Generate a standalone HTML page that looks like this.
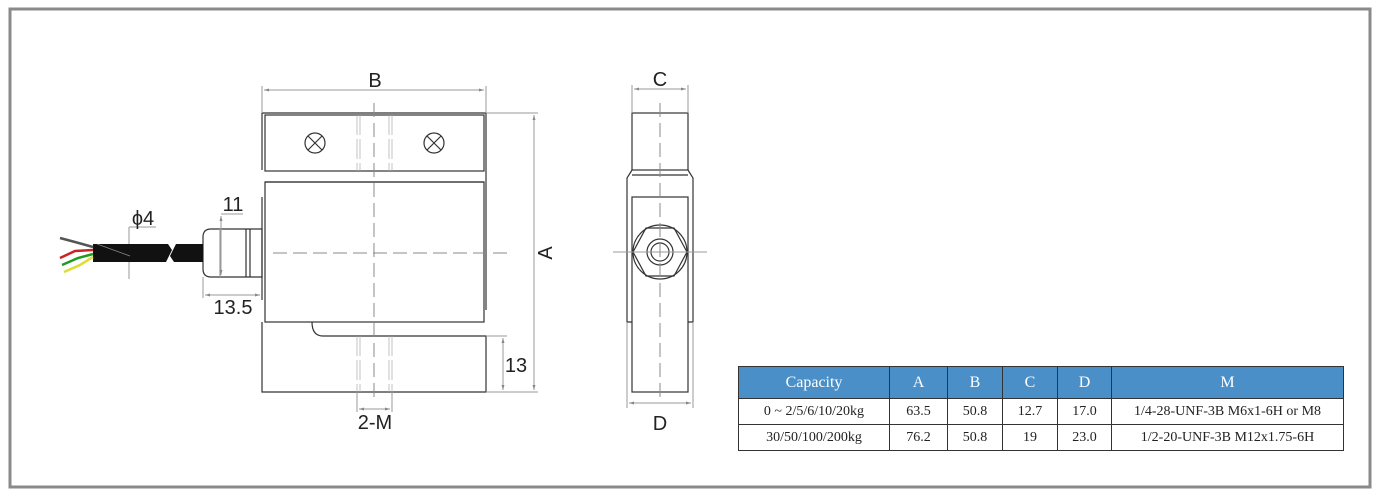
<!DOCTYPE html>
<html><head><meta charset="utf-8"><style>
body{margin:0;background:#fff;width:1383px;height:497px;overflow:hidden;font-family:"Liberation Sans",sans-serif}
table{position:absolute;left:738px;top:366px;border-collapse:collapse;font-family:"Liberation Serif","Noto Serif CJK SC",serif;font-size:14px}
td{border:1px solid #333;text-align:center;padding:0;height:25px;color:#222}
tr.h td{background:#4a8fc7;color:#fff;height:31px;font-size:16px}
</style></head><body>
<svg width="1383" height="497" style="position:absolute;left:0;top:0" font-family="Liberation Sans, sans-serif">
<defs><marker id="a" viewBox="0 0 10 10" refX="10" refY="5" markerWidth="7" markerHeight="5" orient="auto-start-reverse"><path d="M0,2 L10,5 L0,8z" fill="#888"/></marker></defs>
<rect x="10" y="9" width="1360" height="478" fill="none" stroke="#8a8a8a" stroke-width="3"/>
<g stroke="#333" stroke-width="1.2" fill="none">
<line x1="262" y1="113" x2="486" y2="113"/>
<rect x="265" y="115" width="219" height="56"/>
<line x1="265" y1="182" x2="484" y2="182"/>
<rect x="265" y="182" width="219" height="140"/>
<line x1="262" y1="113" x2="262" y2="170"/>
<line x1="486" y1="113" x2="486" y2="310"/>
<line x1="262" y1="197" x2="262" y2="300"/>
<path d="M262,322 V392 H486 V336 H323 Q312,336 312,322"/>
<circle cx="315" cy="143" r="10"/><path d="M308,136 L322,150 M322,136 L308,150"/>
<circle cx="434" cy="143" r="10"/><path d="M427,136 L441,150 M441,136 L427,150"/>
<path d="M203,237 Q203,229 211,229 H262 V277 H211 Q203,277 203,269 Z"/>
<line x1="220" y1="229" x2="220" y2="277" stroke="#999"/><line x1="246" y1="229" x2="246" y2="277"/><line x1="250" y1="229" x2="250" y2="277"/>
<rect x="632" y="113" width="56" height="57"/>
<path d="M632,170 L627,178 V322 H632 M688,170 L693,178 V322 H688"/>
<line x1="632" y1="175" x2="688" y2="175"/>
<rect x="632" y="197" width="56" height="195"/>
<polygon points="633,252 646,228 674,228 687,252 674,276 646,276" fill="#fff"/>
<circle cx="660" cy="252" r="27"/><circle cx="660" cy="252" r="13"/><circle cx="660" cy="252" r="9"/>
</g>
<g stroke="#888" stroke-width="1" fill="none" stroke-dasharray="14,6">
<line x1="374" y1="103" x2="374" y2="400"/>
<line x1="273" y1="253" x2="513" y2="253"/>
<line x1="660" y1="103" x2="660" y2="400"/>
</g>
<g stroke="#aaa" stroke-width="0.7" fill="none" stroke-dasharray="20,4">
<line x1="357" y1="115" x2="357" y2="171"/><line x1="360" y1="115" x2="360" y2="171"/>
<line x1="389" y1="115" x2="389" y2="171"/><line x1="392" y1="115" x2="392" y2="171"/>
<line x1="357" y1="336" x2="357" y2="392"/><line x1="360" y1="336" x2="360" y2="392"/>
<line x1="389" y1="336" x2="389" y2="392"/><line x1="392" y1="336" x2="392" y2="392"/>
</g>
<g stroke="#999" stroke-width="1" fill="none">
<line x1="357" y1="392" x2="357" y2="412"/><line x1="392" y1="392" x2="392" y2="412"/>
<line x1="613" y1="252" x2="707" y2="252"/>
<line x1="262" y1="86" x2="262" y2="113"/><line x1="486" y1="86" x2="486" y2="113"/>
<line x1="264" y1="90" x2="484" y2="90" marker-start="url(#a)" marker-end="url(#a)"/>
<line x1="486" y1="113" x2="538" y2="113"/><line x1="486" y1="392" x2="538" y2="392"/>
<line x1="534" y1="115" x2="534" y2="390" marker-start="url(#a)" marker-end="url(#a)"/>
<line x1="486" y1="336" x2="507" y2="336"/>
<line x1="503" y1="338" x2="503" y2="390" marker-start="url(#a)" marker-end="url(#a)"/>
<line x1="359" y1="409" x2="390" y2="409" marker-start="url(#a)" marker-end="url(#a)"/>
<line x1="129" y1="227" x2="129" y2="279"/><line x1="129" y1="227" x2="156" y2="227"/>
<line x1="221" y1="214" x2="243" y2="214"/>
<line x1="221" y1="216" x2="221" y2="275" marker-start="url(#a)" marker-end="url(#a)"/>
<line x1="203" y1="277" x2="203" y2="298"/>
<line x1="205" y1="295" x2="260" y2="295" marker-start="url(#a)" marker-end="url(#a)"/>
<line x1="632" y1="85" x2="632" y2="113"/><line x1="688" y1="85" x2="688" y2="113"/>
<line x1="634" y1="89" x2="686" y2="89" marker-start="url(#a)" marker-end="url(#a)"/>
<line x1="627" y1="322" x2="627" y2="408"/><line x1="693" y1="322" x2="693" y2="408"/>
<line x1="629" y1="403" x2="691" y2="403" marker-start="url(#a)" marker-end="url(#a)"/>
</g>
<path d="M93,244 H168 L172,250 L166,262 H93 Z" fill="#111"/>
<path d="M176,244 H203 V262 H174 L170,256 Z" fill="#111"/>
<path d="M97,244 L130,256" stroke="#888" stroke-width="0.8"/>
<g stroke-width="2.5" fill="none">
<path d="M93,247 L75,242 L60,238" stroke="#555"/>
<path d="M93,250 L75,251 L60,258" stroke="#c22"/>
<path d="M93,254 L78,258 L62,265" stroke="#292"/>
<path d="M93,257 L80,265 L64,272" stroke="#dd3"/>
</g>
<g font-size="20" fill="#222" text-anchor="middle">
<text x="375" y="87">B</text>
<text x="552" y="253" transform="rotate(-90 552 253)">A</text>
<text x="516" y="372">13</text>
<text x="375" y="429">2-M</text>
<text x="143" y="225">ϕ4</text>
<text x="233" y="211">11</text>
<text x="233" y="314">13.5</text>
<text x="660" y="86">C</text>
<text x="660" y="430">D</text>
</g>
</svg>
<table>
<tr class="h"><td style="width:150px">Capacity</td><td style="width:57px">A</td><td style="width:54px">B</td><td style="width:54px">C</td><td style="width:53px">D</td><td style="width:231px">M</td></tr>
<tr><td>0 ~ 2/5/6/10/20kg</td><td>63.5</td><td>50.8</td><td>12.7</td><td>17.0</td><td>1/4-28-UNF-3B M6x1-6H or M8</td></tr>
<tr><td>30/50/100/200kg</td><td>76.2</td><td>50.8</td><td>19</td><td>23.0</td><td>1/2-20-UNF-3B M12x1.75-6H</td></tr>
</table>
</body></html>
